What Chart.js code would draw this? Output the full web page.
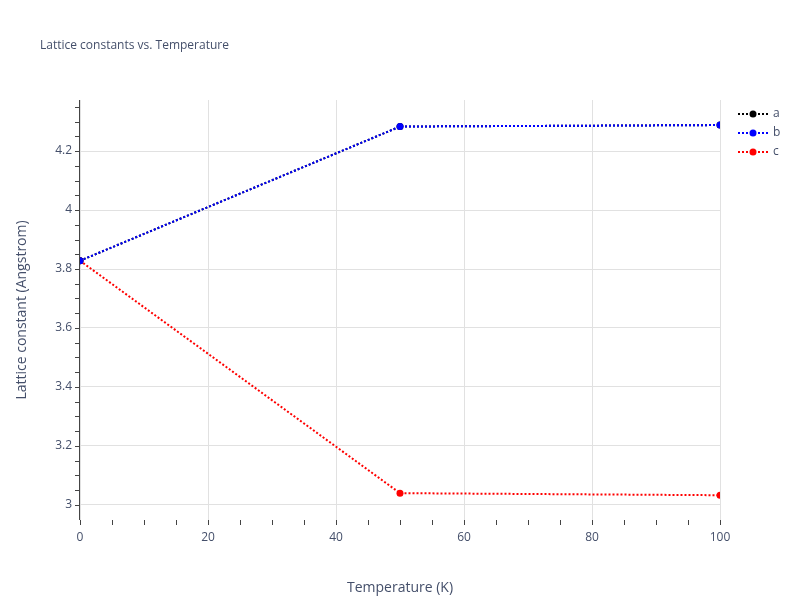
<!DOCTYPE html>
<html>
<head>
<meta charset="utf-8">
<script src="https://cdn.jsdelivr.net/npm/chart.js@4"></script>
<style>
  body { margin: 0; background: #fff; }
  #wrap { width: 800px; height: 600px; }
</style>
</head>
<body>
<div id="wrap"><canvas id="chart" width="800" height="600"></canvas></div>
<script>
const temperatures = [0, 50, 100];
const seriesA = [3.828, 4.283, 4.288];
const seriesB = [3.828, 4.283, 4.288];
const seriesC = [3.828, 3.040, 3.033];
const yTicks = [3, 3.2, 3.4, 3.6, 3.8, 4, 4.2];
const xTicks = [0, 20, 40, 60, 80, 100];

const textColor = "#444f6a";
const font = "'Open Sans', 'Noto Sans', sans-serif";

function series(label, values, color, order) {
  return {
    label,
    order,
    data: temperatures.map((t, i) => ({ x: t, y: values[i] })),
    borderColor: color,
    backgroundColor: color,
    borderWidth: 2,
    borderDash: [2, 2],
    pointRadius: 3.5,
    pointBackgroundColor: color,
    pointBorderWidth: 0,
    tension: 0,
  };
}

const datasets = [
  series("a", seriesA, "#000000", 1),
  series("b", seriesB, "#0000ff", 0),
  series("c", seriesC, "#ff0000", 2),
];

const extras = {
  id: "extras",
  afterDraw(chart) {
    const { ctx, chartArea, scales } = chart;
    const x = scales.x, y = scales.y;
    ctx.save();
    ctx.strokeStyle = "#444444";
    ctx.lineWidth = 1;
    ctx.beginPath();
    ctx.moveTo(chartArea.left - 0.5, chartArea.top);
    ctx.lineTo(chartArea.left - 0.5, chartArea.bottom);
    ctx.stroke();
    for (let v = 2.95; v <= 4.37; v += 0.05) {
      const py = Math.round(y.getPixelForValue(v)) + 0.5;
      if (py < chartArea.top || py > chartArea.bottom) continue;
      ctx.beginPath();
      ctx.moveTo(chartArea.left - 5, py);
      ctx.lineTo(chartArea.left, py);
      ctx.stroke();
    }
    for (let v = 0; v <= 100; v += 5) {
      const px = Math.round(x.getPixelForValue(v)) + 0.5;
      ctx.beginPath();
      ctx.moveTo(px, chartArea.bottom);
      ctx.lineTo(px, chartArea.bottom + 5);
      ctx.stroke();
    }
    ctx.fillStyle = textColor;
    ctx.font = "12px " + font;
    ctx.textBaseline = "middle";
    ctx.textAlign = "left";
    ctx.fillText("Lattice constants vs. Temperature", 40, 46);
    datasets.forEach((ds, i) => {
      const ly = 114 + i * 19;
      ctx.strokeStyle = ds.borderColor;
      ctx.lineWidth = 2;
      ctx.setLineDash([2, 2]);
      ctx.beginPath();
      ctx.moveTo(738, ly);
      ctx.lineTo(768, ly);
      ctx.stroke();
      ctx.setLineDash([]);
      ctx.fillStyle = ds.borderColor;
      ctx.beginPath();
      ctx.arc(753, ly, 3.5, 0, Math.PI * 2);
      ctx.fill();
      ctx.fillStyle = textColor;
      ctx.fillText(ds.label, 773, ly);
    });
    ctx.restore();
  },
};

new Chart(document.getElementById("chart"), {
  type: "line",
  data: { datasets },
  plugins: [extras],
  options: {
    responsive: false,
    animation: false,
    layout: { padding: { top: 100, right: 80, bottom: 0, left: 10 } },
    plugins: { legend: { display: false }, tooltip: { enabled: false } },
    scales: {
      x: {
        type: "linear",
        min: 0,
        max: 100,
        afterBuildTicks: (s) => { s.ticks = xTicks.map((v) => ({ value: v })); },
        afterFit: (s) => { s.height = 80; },
        grid: { color: "#e1e1e1", drawTicks: false },
        border: { display: false },
        ticks: { color: textColor, font: { family: font, size: 12 }, padding: 10 },
        title: { display: true, text: "Temperature (K)", color: textColor, font: { family: font, size: 14 }, padding: { top: 12 } },
      },
      y: {
        type: "linear",
        min: 2.949,
        max: 4.373,
        afterBuildTicks: (s) => { s.ticks = yTicks.map((v) => ({ value: v })); },
        afterFit: (s) => { s.width = 70; },
        grid: { color: "#e1e1e1", drawTicks: false },
        border: { display: false },
        ticks: {
          color: textColor, font: { family: font, size: 12 }, padding: 8,
          callback: (v) => String(Math.round(v * 10) / 10),
        },
        title: { display: true, text: "Lattice constant (Angstrom)", color: textColor, font: { family: font, size: 14 }, padding: { bottom: 8 } },
      },
    },
  },
});
</script>
</body>
</html>
